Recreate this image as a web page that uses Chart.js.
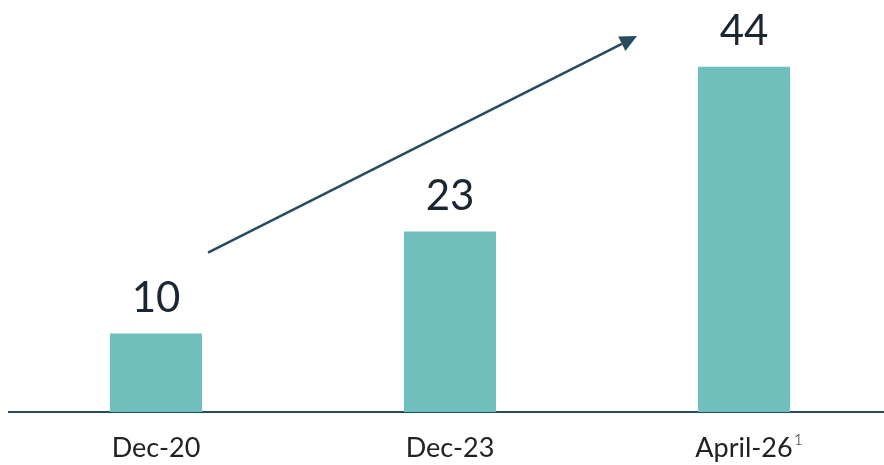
<!DOCTYPE html>
<html>
<head>
<meta charset="utf-8">
<script src="https://cdn.jsdelivr.net/npm/chart.js@4"></script>
<style>
  html, body { margin: 0; padding: 0; background: #fff; overflow: hidden; }
  #wrap { width: 891px; height: 465px; }
</style>
</head>
<body>
<div id="wrap"><canvas id="chart" width="891" height="465"></canvas></div>
<script>
const categories = ["Dec-20", "Dec-23", "April-26"];
const values = [10, 23, 44];
const footnotes = ["", "", "1"];

// growth arrow, in axis units: [category index, value]
const arrowFrom = [0.177, 20.3];
const arrowTo = [1.636, 47.9];

const BAR = "#6fbfbd";
const INK = "#1c2631";
const LINE = "#264b5d";
const TICK_FONT = { family: "Lato", size: 27 };

// numbers above each bar
const valueLabels = {
  id: "valueLabels",
  afterDatasetsDraw(chart) {
    const ctx = chart.ctx;
    const meta = chart.getDatasetMeta(0);
    ctx.save();
    ctx.font = "400 42px Lato";
    ctx.fillStyle = INK;
    ctx.textAlign = "center";
    ctx.textBaseline = "alphabetic";
    meta.data.forEach((bar, i) => {
      ctx.fillText(String(values[i]), bar.x, bar.y - 22);
    });
    ctx.restore();
  }
};

// arrow + footnote markers
const extras = {
  id: "extras",
  afterDraw(chart) {
    const ctx = chart.ctx;
    const xs = chart.scales.x, ys = chart.scales.y;
    const x1 = xs.getPixelForValue(arrowFrom[0]), y1 = ys.getPixelForValue(arrowFrom[1]);
    const x2 = xs.getPixelForValue(arrowTo[0]), y2 = ys.getPixelForValue(arrowTo[1]);
    const ang = Math.atan2(y2 - y1, x2 - x1);
    const head = 17, half = 8;
    ctx.save();
    ctx.strokeStyle = LINE;
    ctx.fillStyle = LINE;
    ctx.lineWidth = 2.5;
    ctx.beginPath();
    ctx.moveTo(x1, y1);
    ctx.lineTo(x2 - Math.cos(ang) * head, y2 - Math.sin(ang) * head);
    ctx.stroke();
    ctx.beginPath();
    ctx.moveTo(x2, y2);
    ctx.lineTo(x2 - Math.cos(ang) * head + Math.sin(ang) * half, y2 - Math.sin(ang) * head - Math.cos(ang) * half);
    ctx.lineTo(x2 - Math.cos(ang) * head - Math.sin(ang) * half, y2 - Math.sin(ang) * head + Math.cos(ang) * half);
    ctx.closePath();
    ctx.fill();

    const base = chart.chartArea.bottom;
    ctx.fillStyle = "#222";
    ctx.textAlign = "left";
    ctx.textBaseline = "alphabetic";
    footnotes.forEach((note, i) => {
      if (!note) return;
      ctx.font = `400 ${TICK_FONT.size}px ${TICK_FONT.family}`;
      const w = ctx.measureText(categories[i]).width;
      const cx = xs.getPixelForValue(i);
      ctx.font = "300 16px Lato";
      ctx.fillText(note, cx + w / 2 + 1, base + 33);
    });
    ctx.restore();
  }
};

new Chart(document.getElementById("chart"), {
  type: "bar",
  data: {
    labels: categories,
    datasets: [{
      data: values,
      backgroundColor: BAR,
      borderWidth: 0,
      categoryPercentage: 1,
      barPercentage: 0.313
    }]
  },
  options: {
    responsive: false,
    animation: false,
    devicePixelRatio: 1,
    layout: { padding: { left: 9, top: 0, right: 0, bottom: 0 } },
    plugins: { legend: { display: false }, tooltip: { enabled: false } },
    scales: {
      x: {
        grid: { display: false, drawTicks: false },
        border: { display: true, color: LINE, width: 2 },
        ticks: { color: "#222", font: TICK_FONT, padding: 20 },
        afterFit(scale) { scale.height = 53; }
      },
      y: {
        display: false,
        min: 0,
        max: 52.5
      }
    }
  },
  plugins: [valueLabels, extras]
});
</script>
</body>
</html>
